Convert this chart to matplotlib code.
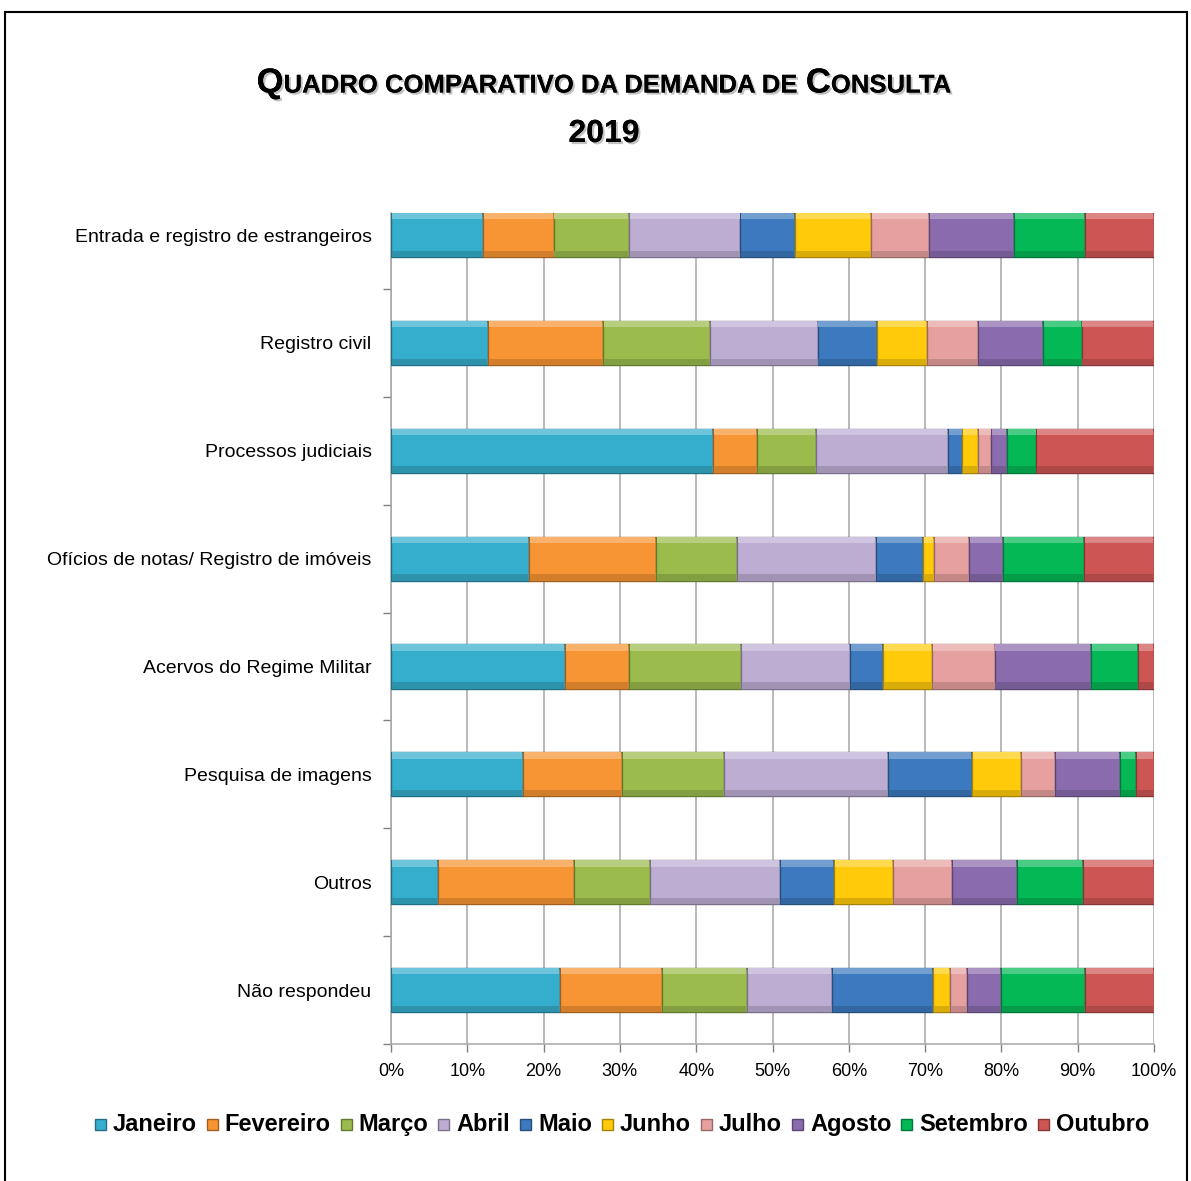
import matplotlib
matplotlib.use('Agg')
import matplotlib.pyplot as plt
import matplotlib.patheffects as pe
import numpy as np
from matplotlib.colors import to_rgb
from matplotlib.offsetbox import TextArea, HPacker, AnnotationBbox
from matplotlib.patches import Rectangle
from matplotlib.ticker import FixedLocator, PercentFormatter

# Dados (percentual de cada mês por tipo de consulta)
categorias = ['Entrada e registro de estrangeiros', 'Registro civil', 'Processos judiciais',
              'Ofícios de notas/ Registro de imóveis', 'Acervos do Regime Militar',
              'Pesquisa de imagens', 'Outros', 'Não respondeu']
meses = ['Janeiro', 'Fevereiro', 'Março', 'Abril', 'Maio', 'Junho',
         'Julho', 'Agosto', 'Setembro', 'Outubro']
janeiro = [12.0, 12.7, 42.2, 18.1, 22.8, 17.3, 6.2, 22.1]
fevereiro = [9.3, 15.1, 5.8, 16.6, 8.4, 13.0, 17.8, 13.4]
marco = [9.9, 14.0, 7.7, 10.6, 14.7, 13.3, 10.0, 11.2]
abril = [14.6, 14.1, 17.3, 18.3, 14.3, 21.5, 17.0, 11.1]
maio = [7.2, 7.8, 1.9, 6.1, 4.3, 11.0, 7.1, 13.2]
junho = [9.9, 6.6, 2.0, 1.5, 6.4, 6.5, 7.7, 2.3]
julho = [7.6, 6.6, 1.8, 4.6, 8.2, 4.4, 7.7, 2.2]
agosto = [11.1, 8.6, 2.0, 4.4, 12.6, 8.5, 8.6, 4.5]
setembro = [9.4, 5.0, 3.9, 10.6, 6.2, 2.2, 8.6, 11.0]
outubro = [9.0, 9.5, 15.4, 9.2, 2.1, 2.3, 9.3, 9.0]

cores = ['#35ADCC', '#F79433', '#9BBB4C', '#BDADD3', '#3C79BE',
         '#FFCA0A', '#E6A09F', '#8A6BAD', '#05B856', '#CD5654']


def misturar(cor, alvo, f):
    c = np.array(to_rgb(cor))
    return tuple(c + (np.array(alvo) - c) * f)


series = np.array([janeiro, fevereiro, marco, abril, maio, junho,
                   julho, agosto, setembro, outubro])
series = series / series.sum(axis=0) * 100

fonte = ['Liberation Sans Narrow', 'Liberation Sans', 'DejaVu Sans']
W, H = 1191, 1181

fig = plt.figure(figsize=(W / 100, H / 100), dpi=100)
ax = fig.add_axes([391 / W, 1 - 1044 / H, 763 / W, 831 / H])

y = np.arange(len(categorias))
alt = 0.41
faixa = 0.06
esq = np.zeros(len(categorias))
for i, mes in enumerate(meses):
    borda = misturar(cores[i], (0, 0, 0), 0.35)
    ax.barh(y, series[i], left=esq, height=alt, color=cores[i],
            edgecolor=borda, linewidth=1.0, zorder=3, label=mes)
    # efeito de chanfro: faixa clara em cima e escura embaixo
    ax.barh(y - alt / 2 + faixa / 2, series[i] - 0.25, left=esq + 0.125, height=faixa,
            color=misturar(cores[i], (1, 1, 1), 0.28), linewidth=0, zorder=4)
    ax.barh(y + alt / 2 - faixa / 2, series[i] - 0.25, left=esq + 0.125, height=faixa,
            color=misturar(cores[i], (0, 0, 0), 0.15), linewidth=0, zorder=4)
    esq += series[i]

ax.set_xlim(0, 100)
ax.set_ylim(len(categorias) - 0.5, -0.205)
ax.xaxis.set_major_locator(FixedLocator(np.arange(0, 101, 10)))
ax.xaxis.set_major_formatter(PercentFormatter(decimals=0))
ax.grid(axis='x', color='#A6A6A6', linewidth=1.1, zorder=0)

ax.set_yticks(y)
ax.set_yticklabels(categorias, fontsize=14, family=fonte)
ax.yaxis.set_minor_locator(FixedLocator(np.arange(0.5, len(categorias), 1)))
ax.tick_params(axis='y', which='major', length=0, pad=14)
ax.tick_params(axis='y', which='minor', length=6, color='#808080', width=1)
ax.tick_params(axis='x', length=6, color='#808080', width=1, pad=8)
for lbl in ax.get_xticklabels():
    lbl.set_fontsize(13)
    lbl.set_family(fonte)

for lado in ['top', 'right']:
    ax.spines[lado].set_visible(False)
for lado in ['left', 'bottom']:
    ax.spines[lado].set_color('#A6A6A6')
    ax.spines[lado].set_linewidth(1.1)

# Título em versalete
sombra = [pe.withSimplePatchShadow(offset=(1.5, -1.5), shadow_rgbFace='#999999', alpha=0.6), pe.Normal()]
partes = [('Q', 25), ('UADRO COMPARATIVO DA DEMANDA DE ', 18.5), ('C', 25), ('ONSULTA', 18.5)]
caixas = [TextArea(t, textprops=dict(fontsize=s, fontweight='bold', family=['Liberation Sans', 'DejaVu Sans'],
                                     path_effects=sombra)) for t, s in partes]
pacote = HPacker(children=caixas, align='baseline', pad=0, sep=0)
fig.add_artist(AnnotationBbox(pacote, (604 / W, 1 - 83 / H), xycoords='figure fraction',
                              frameon=False, box_alignment=(0.5, 0.5)))
fig.text(604 / W, 1 - 134 / H, '2019', fontsize=23, fontweight='bold', ha='center', va='center',
         family=['Liberation Sans', 'DejaVu Sans'], path_effects=sombra)

# Legenda montada manualmente (uma linha)
props = dict(family=fonte, fontweight='bold', fontsize=17)
renderer = fig.canvas.get_renderer()
larguras = []
for mes in meses:
    t = fig.text(0, 0, mes, **props)
    larguras.append(t.get_window_extent(renderer).width)
    t.remove()
quad, gap1, gap2 = 11, 7, 10
total = sum(quad + gap1 + w for w in larguras) + gap2 * (len(meses) - 1)
x = 622 - total / 2
base = H - 1131
for cor, mes, w in zip(cores, meses, larguras):
    fig.add_artist(Rectangle((x / W, (base + 1) / H), quad / W, quad / H, transform=fig.transFigure,
                             facecolor=cor, edgecolor=misturar(cor, (0, 0, 0), 0.35), linewidth=1))
    fig.text((x + quad + gap1) / W, base / H, mes, va='baseline', ha='left', **props)
    x += quad + gap1 + w + gap2

# Moldura
fig.add_artist(Rectangle((5 / W, -0.01), 1182 / W, 1 - 12 / H + 0.01, transform=fig.transFigure,
                         fill=False, edgecolor='black', linewidth=1.5))

fig.savefig('out.png', dpi=100, facecolor='white')
